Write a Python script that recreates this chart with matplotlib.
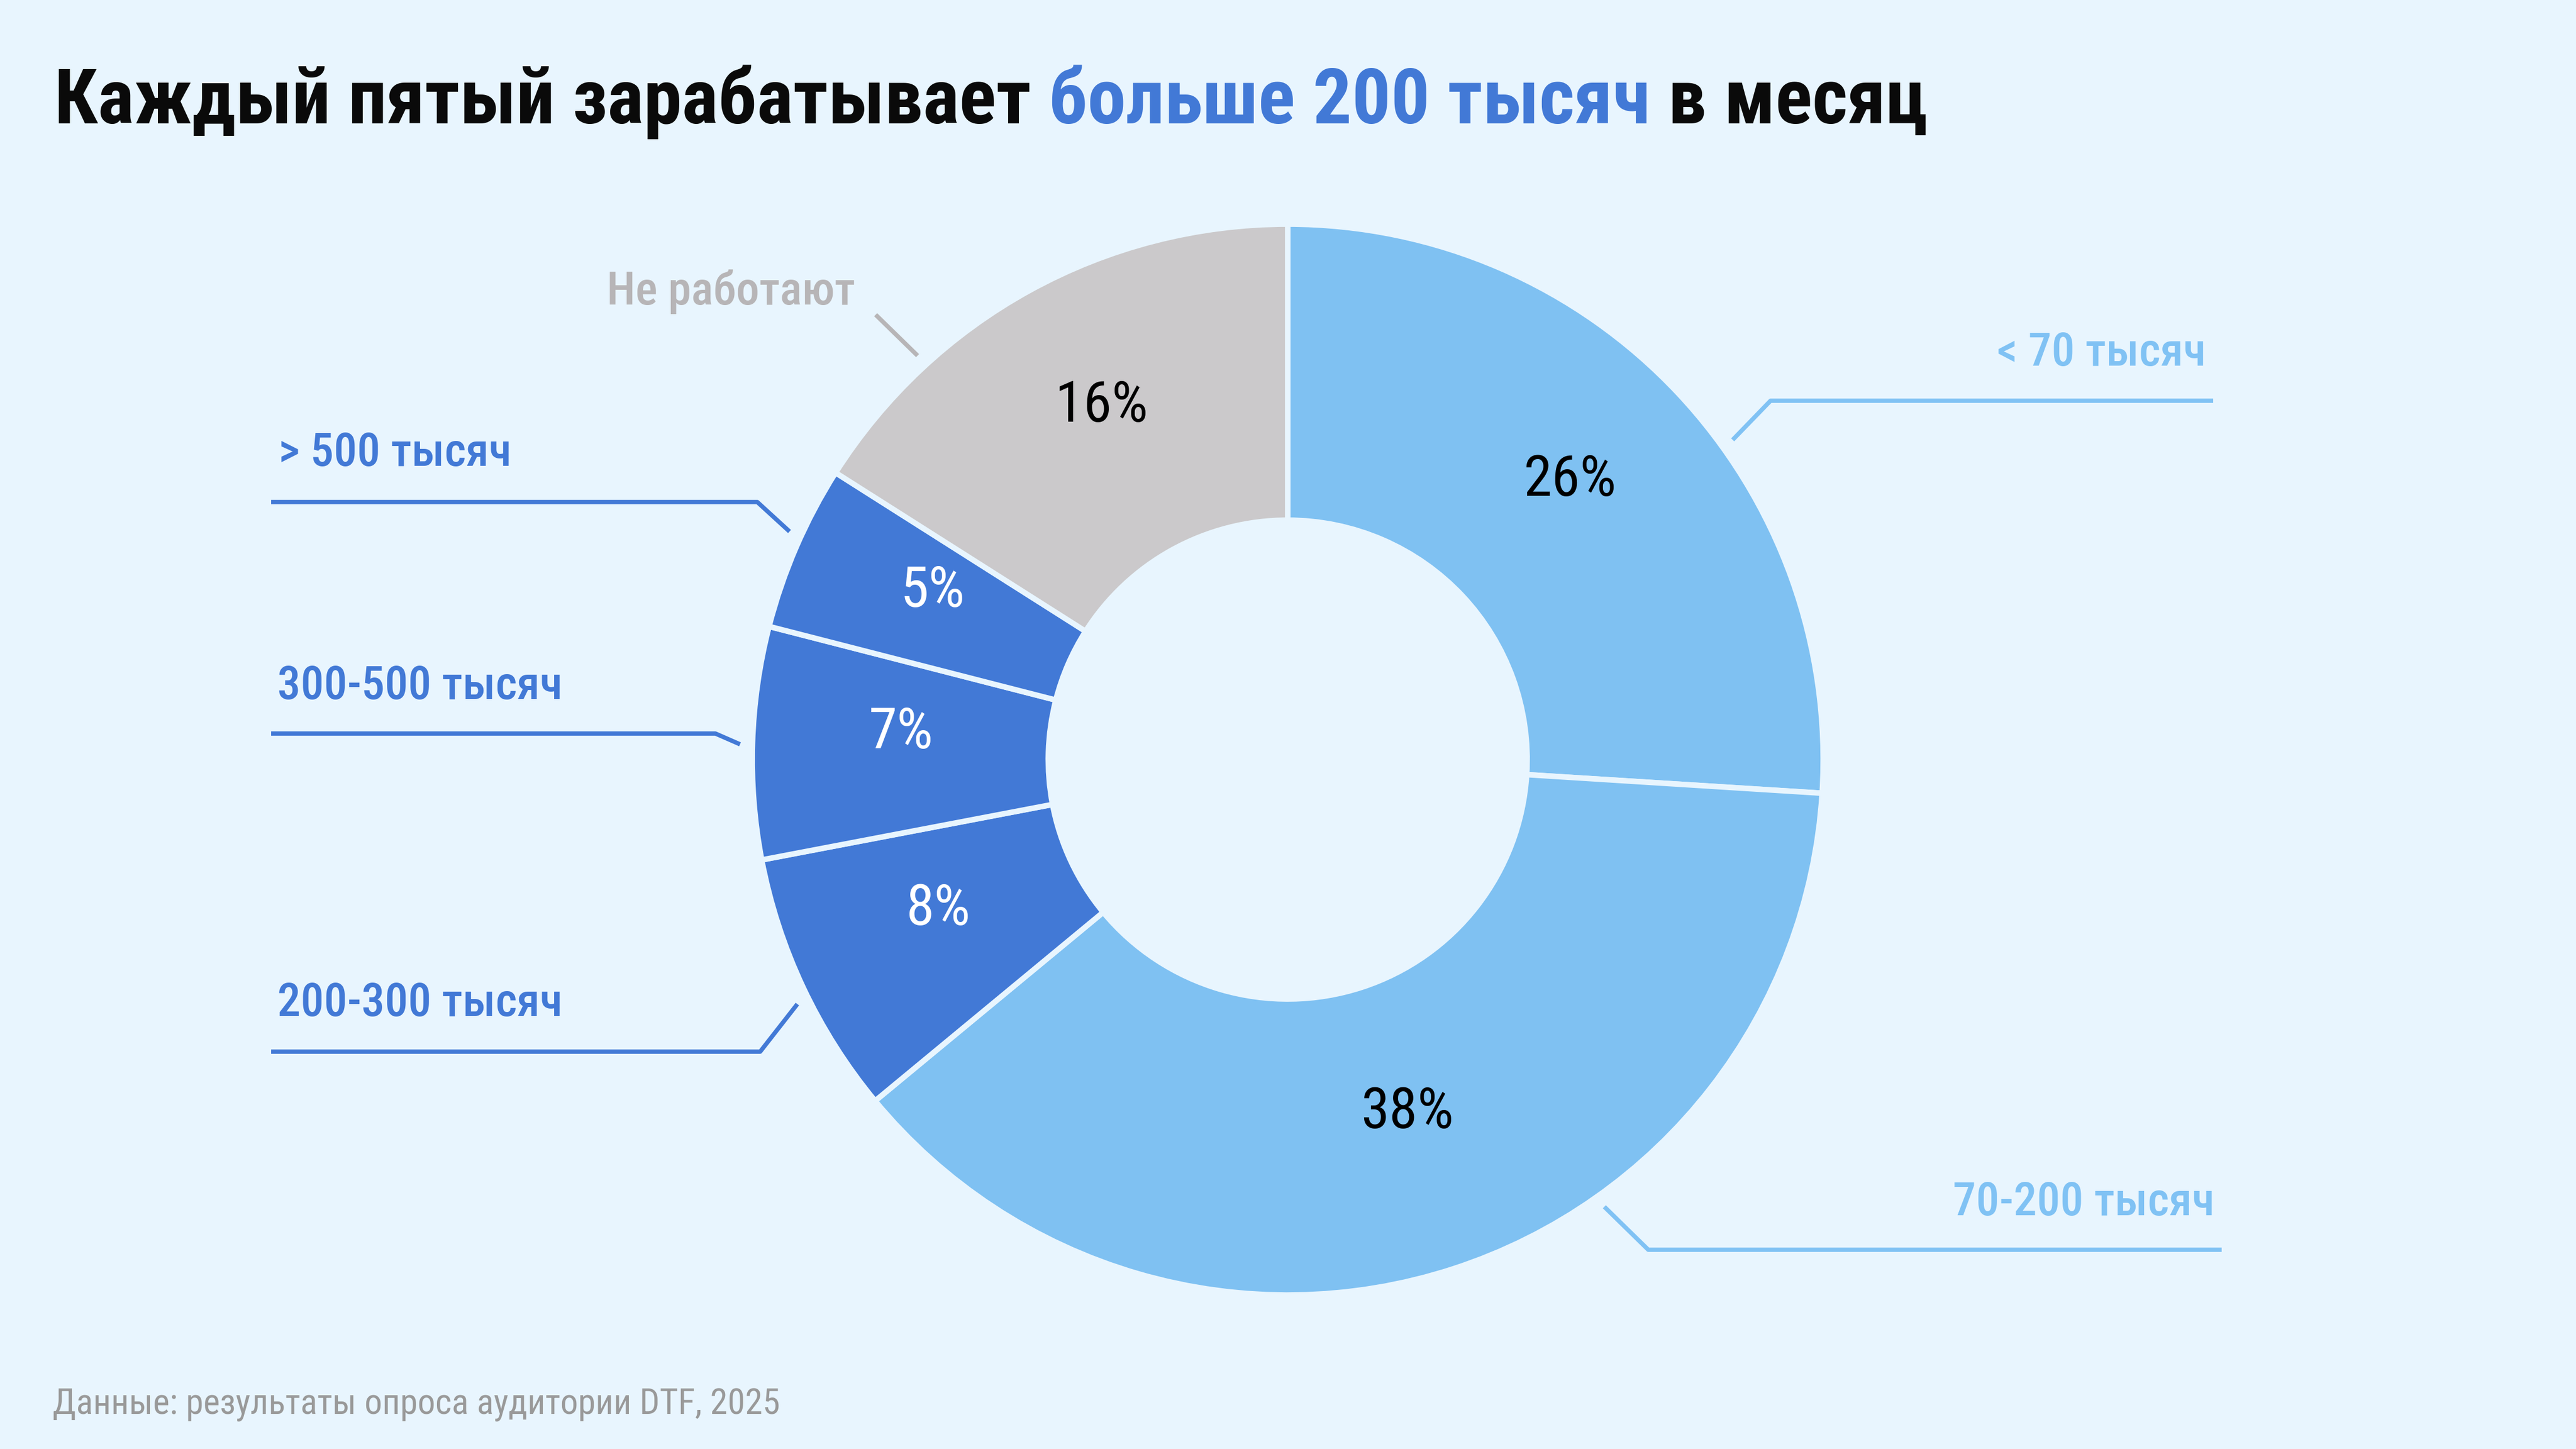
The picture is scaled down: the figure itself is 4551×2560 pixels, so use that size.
import matplotlib
matplotlib.use('Agg')
import matplotlib.pyplot as plt
import numpy as np
from matplotlib import font_manager

# --- data ---
categories = ['< 70 тысяч', '70-200 тысяч', '200-300 тысяч', '300-500 тысяч', '> 500 тысяч', 'Не работают']
shares = [26, 38, 8, 7, 5, 16]

title_parts = ['Каждый пятый зарабатывает', 'больше 200 тысяч', 'в месяц']
source = 'Данные: результаты опроса аудитории DTF, 2025'

# --- colours ---
BG = '#E8F5FE'
LIGHT = '#7FC1F2'
DARK = '#4279D6'
GREY = '#CBC9CB'
slice_colors = [LIGHT, LIGHT, DARK, DARK, DARK, GREY]
label_colors = ['#80C2F4', '#80C2F4', DARK, DARK, DARK, '#B7B5B7']
pct_colors = ['#000000', '#000000', 'white', 'white', 'white', '#000000']
title_colors = ['#0A0A0A', DARK, '#0A0A0A']

# condensed face if we have one
names = {f.name for f in font_manager.fontManager.ttflist}
FONT = 'Roboto Condensed' if 'Roboto Condensed' in names else 'Roboto'

W, H = 4551, 2560
fig = plt.figure(figsize=(W / 100, H / 100), dpi=100, facecolor=BG)
ax = fig.add_axes([0, 0, 1, 1])
ax.set_facecolor(BG)

# donut geometry (pixels, y up)
cx, cy = 2275, H - 1342
R, r = 946, 423

wedges, _, pcts = ax.pie(
    shares, colors=slice_colors, startangle=90, counterclock=False,
    center=(cx, cy), radius=R,
    autopct=lambda p: f'{p:.0f}%', pctdistance=0.722,
    wedgeprops=dict(width=R - r, edgecolor=BG, linewidth=7, joinstyle='round'),
    textprops=dict(fontsize=73, family=FONT))
for t, c in zip(pcts, pct_colors):
    t.set_color(c)
    px, py = t.get_position()
    t.set_position((px, py + 26))  # numbers sit a little above the ring middle

ax.set_xlim(0, W)
ax.set_ylim(0, H)
ax.set_aspect('equal')
ax.axis('off')

# outer labels: text x, baseline (image y), alignment, leader angle, elbow, line end x
label_layout = [
    (3897, 646, 'right', 35.7, (3128, 708), 3910),
    (3912, 2147, 'right', -54.7, (2912, 2208), 3925),
    (490, 1795, 'left', -153.5, (1343, 1858), 479),
    (490, 1235, 'left', 178.4, (1264, 1296), 479),
    (492, 823, 'left', 155.4, (1338, 887), 479),
    (1511, 538, 'right', 132.5, (1547, 556), None),
]
lead_r = 968
for name, col, (tx, ty, ha, ang, elbow, xend) in zip(categories, label_colors, label_layout):
    ax.text(tx, H - ty, name, ha=ha, va='baseline', fontsize=59, color=col,
            family=FONT, fontweight='medium')
    a = np.deg2rad(ang)
    xs = [cx + lead_r * np.cos(a), elbow[0]]
    ys = [cy + lead_r * np.sin(a), H - elbow[1]]
    if xend is not None:
        xs.append(xend)
        ys.append(H - elbow[1])
    ax.plot(xs, ys, color=col, lw=5.5, solid_capstyle='butt')

# title in three colours, placed piece by piece
renderer = fig.canvas.get_renderer()
tkw = dict(fontsize=98, fontweight='bold', family=FONT, va='baseline', ha='left')
probe1 = ax.text(0, 0, 'а а', **tkw)
probe2 = ax.text(0, 0, 'аа', **tkw)
space_w = probe1.get_window_extent(renderer).width - probe2.get_window_extent(renderer).width
probe1.remove()
probe2.remove()
x = 96
for part, col in zip(title_parts, title_colors):
    t = ax.text(x, H - 218, part, color=col, **tkw)
    x += t.get_window_extent(renderer).width + space_w

ax.text(93, H - 2498, source, fontsize=45, color='#999999', family=FONT,
        va='baseline', ha='left')

fig.savefig('out.png', dpi=100, facecolor=BG)
